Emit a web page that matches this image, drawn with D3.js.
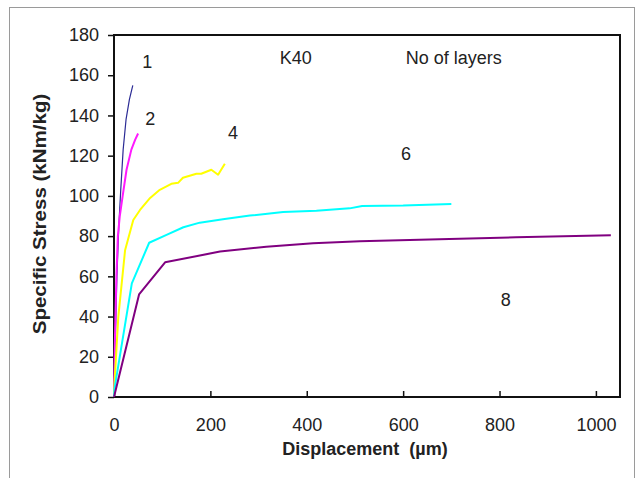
<!DOCTYPE html>
<html>
<head>
<meta charset="utf-8">
<script src="https://cdn.jsdelivr.net/npm/d3@7"></script>
<style>
  body { margin: 0; background: #fff; }
  svg text { font-family: "Liberation Sans", Arial, sans-serif; fill: #222; }
</style>
</head>
<body>
<div id="chart"></div>
<script>
// layer counts and their curves: [displacement (µm), specific stress (kNm/kg)]
const layers = ["1", "2", "4", "6", "8"]
const curveColors = ["#2b2b95", "#ff1aff", "#ffff00", "#00ffff", "#800080"]

const layer1 = [[0,0],[3,30],[6,60],[10,85],[14,103],[19,123],[25,138],[32,148],[39,155]]
const layer2 = [[0,0],[2,30],[5,60],[8,80],[12,90],[18,100],[26,113],[36,123],[44,128],[50,131]]
const layer4 = [[0,0],[1,7],[9,40],[23,73],[40,88],[54,93],[75,99],[95,103],[119,106],[133,106.5],
                [143,109],[171,111],[181,111],[202,113],[216,110.5],[230,116]]
const layer6 = [[0,0],[1,4],[37,56.5],[73,76.7],[109,80.6],[144,84.4],[178,86.7],[226,88.4],[282,90.2],
                [351,92],[420,92.6],[489,93.8],[515,95],[600,95.2],[700,96]]
const layer8 = [[0,0],[1,1],[52,51],[106,67],[220,72.3],[316,74.7],[413,76.4],[510,77.4],
                [696,78.6],[834,79.4],[1031,80.4]]
const curves = [layer1, layer2, layer4, layer6, layer8]

const xTicks = [0, 200, 400, 600, 800, 1000]
const yTicks = [0, 20, 40, 60, 80, 100, 120, 140, 160, 180]

// in-plot annotations: [label, x value, y value] (y at text baseline)
const notes = [["1", 69, 163.6], ["2", 75, 135.3], ["4", 247, 128.1], ["6", 606, 117.8],
               ["8", 813, 45.4], ["K40", 377, 165.6], ["No of layers", 705, 165.6]]

const W = 643, H = 478
const margin = {top: 35, right: 23, bottom: 81, left: 114}
const width = W - margin.left - margin.right
const height = H - margin.top - margin.bottom

const svg = d3.select("#chart").append("svg")
    .attr("width", W)
    .attr("height", H)

// outer frame of the figure
svg.append("rect")
    .attr("x", 9.5).attr("y", 7.5)
    .attr("width", 625).attr("height", 480)
    .attr("fill", "none")
    .attr("stroke", "#9a9a9a")
    .attr("stroke-width", 1)

const g = svg.append("g")
    .attr("transform", `translate(${margin.left},${margin.top})`)

const x = d3.scaleLinear().domain([0, 1050]).range([0, width])
const y = d3.scaleLinear().domain([0, 180]).range([height, 0])

// y axis, ticks outside
const yAxis = g.append("g")
    .call(d3.axisLeft(y).tickValues(yTicks).tickSize(6).tickPadding(9))
yAxis.select(".domain").remove()
yAxis.selectAll("line").attr("stroke", "#111").attr("stroke-width", 1.5)
yAxis.selectAll("text").style("font-size", "18px").attr("fill", "#222")

// x axis, ticks inside
const xAxis = g.append("g")
    .attr("transform", `translate(0,${height})`)
    .call(d3.axisBottom(x).tickValues(xTicks).tickFormat(d3.format("d")).tickSize(-6).tickPadding(21))
xAxis.select(".domain").remove()
xAxis.selectAll("line").attr("stroke", "#111").attr("stroke-width", 1.5)
xAxis.selectAll("text").style("font-size", "18px").attr("fill", "#222")

// plot box
g.append("rect")
    .attr("width", width).attr("height", height)
    .attr("fill", "none")
    .attr("stroke", "#111")
    .attr("stroke-width", 2)

const line = d3.line().x(d => x(d[0])).y(d => y(d[1]))

g.selectAll(".curve")
    .data(curves)
    .enter().append("path")
    .attr("class", "curve")
    .attr("d", line)
    .attr("fill", "none")
    .attr("stroke", (d, i) => curveColors[i])
    .attr("stroke-width", (d, i) => i == 0 ? 1.2 : 2)
    .attr("stroke-linejoin", "round")

g.selectAll(".note")
    .data(notes)
    .enter().append("text")
    .attr("class", "note")
    .attr("x", d => x(d[1]))
    .attr("y", d => y(d[2]))
    .attr("text-anchor", "middle")
    .style("font-size", "18px")
    .text(d => d[0])

// axis titles
svg.append("text")
    .attr("transform", `translate(46,214) rotate(-90) scale(1.14,1)`)
    .attr("text-anchor", "middle")
    .style("font-size", "18px")
    .style("font-weight", "bold")
    .text("Specific Stress (kNm/kg)")

svg.append("text")
    .attr("x", 365)
    .attr("y", 455)
    .attr("text-anchor", "middle")
    .style("font-size", "18px")
    .style("font-weight", "bold")
    .attr("xml:space", "preserve")
    .style("white-space", "pre")
    .text("Displacement  (µm)")
</script>
</body>
</html>
